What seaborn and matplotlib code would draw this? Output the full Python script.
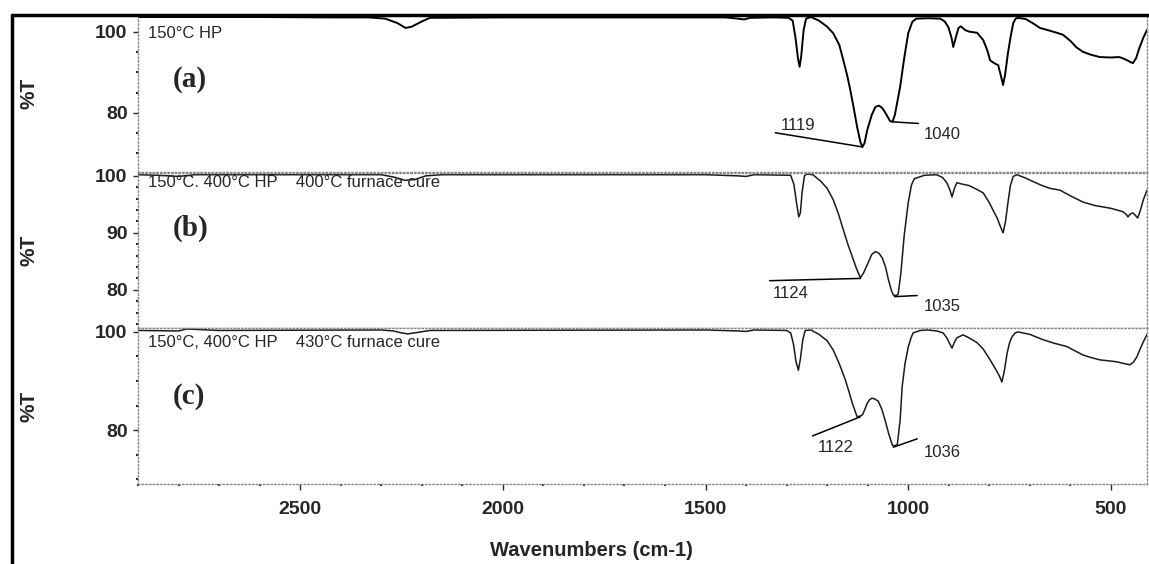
import matplotlib
matplotlib.use("Agg")
import numpy as np
import pandas as pd
import seaborn as sns
import matplotlib.pyplot as plt
from matplotlib.ticker import MultipleLocator
from matplotlib.lines import Line2D

# FTIR spectra (wavenumber cm-1, %T)
wn_a = [2900, 2600, 2420, 2330, 2290, 2260, 2240, 2225, 2200, 2180, 2000, 1700, 1450, 1420, 1405,
        1390, 1330, 1295, 1285, 1278, 1272, 1268, 1264, 1258, 1252, 1240, 1220, 1200, 1185, 1170,
        1160, 1150, 1143, 1135, 1126, 1118, 1113, 1108, 1101, 1090, 1081, 1072, 1064, 1055, 1045,
        1039, 1033, 1020, 1010, 1000, 990, 980, 950, 921, 910, 901, 893, 889, 883, 876,
        870, 860, 850, 830, 815, 805, 798, 788, 778, 771, 766, 761, 754, 748, 741,
        735, 729, 710, 690, 675, 650, 630, 618, 600, 585, 569, 550, 527, 500, 480,
        473, 460, 446, 438, 430, 420, 411]
t_a = [103.7, 103.7, 103.6, 103.6, 103.3, 102.2, 101.0, 101.3, 102.6, 103.5, 103.6, 103.6, 103.6, 103.3, 103.1,
       103.5, 103.6, 103.5, 102.8, 98.5, 93.5, 91.4, 94.0, 100.5, 103.3, 103.7, 102.8, 101.3, 99.7, 96.8,
       93.0, 89.0, 85.7, 81.5, 76.5, 72.8, 71.6, 72.5, 75.8, 79.5, 81.5, 81.8, 81.2, 79.8, 78.0,
       77.8, 79.5, 86.4, 93.5, 99.7, 102.5, 103.3, 103.4, 103.3, 102.6, 101.2, 98.5, 96.3, 98.5, 101.0,
       101.4, 100.5, 100.1, 99.8, 98.0, 95.5, 93.0, 92.3, 91.8, 89.0, 86.9, 89.5, 94.8, 98.5, 102.2,
       103.3, 103.5, 103.2, 102.0, 101.0, 100.3, 99.7, 99.3, 97.8, 96.2, 95.1, 94.4, 93.8, 93.7, 93.8,
       93.6, 93.0, 92.3, 93.5, 96.0, 98.6, 100.5]

wn_b = [2900, 2850, 2800, 2760, 2300, 2270, 2240, 2215, 2190, 2150, 1500, 1420, 1400, 1380, 1290,
        1282, 1275, 1270, 1266, 1262, 1256, 1250, 1235, 1215, 1200, 1185, 1172, 1160, 1148, 1138,
        1128, 1118, 1110, 1101, 1090, 1081, 1072, 1064, 1056, 1049, 1042, 1037, 1030, 1025, 1018,
        1010, 1000, 992, 985, 960, 930, 915, 905, 897, 892, 886, 880, 870, 850, 830,
        815, 800, 791, 780, 772, 766, 760, 754, 748, 741, 732, 710, 692, 670, 650,
        626, 600, 569, 540, 500, 470, 462, 458, 452, 446, 440, 434, 428, 420, 411]
t_b = [100.2, 100.1, 99.9, 100.2, 100.2, 99.8, 99.2, 99.4, 100.0, 100.2, 100.2, 100.0, 99.9, 100.2, 100.1,
       98.5, 95.0, 92.8, 93.5, 97.0, 100.0, 100.3, 100.2, 99.0, 97.8, 95.8, 93.3, 90.5, 87.8, 85.8,
       83.8, 82.1, 83.0, 84.4, 86.2, 86.7, 86.4, 85.6, 84.0, 81.8, 80.0, 79.1, 79.0, 79.2, 83.0,
       89.5, 95.3, 98.4, 99.5, 100.1, 100.2, 99.7, 98.8, 97.5, 96.3, 97.8, 98.8, 98.6, 98.3, 97.6,
       97.0, 95.3, 94.0, 92.5, 91.0, 90.0, 92.0, 95.3, 98.3, 99.9, 100.2, 99.6, 99.0, 98.3, 97.8,
       97.5, 96.5, 95.4, 94.8, 94.3, 93.7, 93.2, 92.8, 93.3, 93.5, 93.1, 92.6, 93.8, 95.8, 97.5]

wn_c = [2900, 2800, 2780, 2700, 2300, 2270, 2250, 2235, 2210, 2180, 1500, 1420, 1400, 1380, 1300,
        1290, 1283, 1277, 1271, 1266, 1260, 1254, 1240, 1220, 1200, 1185, 1170, 1155, 1145, 1138,
        1130, 1126, 1120, 1113, 1107, 1101, 1095, 1089, 1082, 1074, 1065, 1057, 1048, 1039, 1033,
        1027, 1020, 1015, 1008, 1000, 993, 988, 970, 953, 930, 914, 905, 897, 892, 886,
        880, 865, 850, 830, 815, 798, 785, 775, 769, 763, 756, 750, 744, 736, 729,
        700, 667, 640, 608, 590, 569, 550, 527, 505, 485, 470, 453, 445, 436, 428,
        421, 411]
t_c = [100.3, 100.2, 100.6, 100.3, 100.4, 100.2, 99.8, 99.6, 99.9, 100.3, 100.4, 100.2, 100.1, 100.4, 100.3,
       99.8, 97.5, 94.0, 92.2, 94.5, 98.5, 100.3, 100.4, 99.5, 98.2, 96.3, 93.5, 90.2, 87.5, 85.5,
       83.6, 82.7, 82.8, 83.1, 84.2, 85.5, 86.2, 86.5, 86.3, 85.9, 84.2, 82.0, 79.2, 76.9, 76.8,
       77.0, 82.0, 88.8, 93.5, 96.9, 98.8, 99.8, 100.3, 100.4, 100.2, 99.8, 98.8, 97.5, 96.7, 97.9,
       98.8, 99.4, 98.8, 97.8, 96.5, 94.3, 92.5, 91.0, 89.8, 92.0, 95.7, 97.8, 99.0, 99.8, 100.0,
       99.5, 98.4, 97.7, 97.0, 96.2, 95.3, 94.8, 94.3, 94.1, 93.9, 93.6, 93.3, 93.8, 94.9, 96.5,
       97.8, 99.5]

conditions = ["150°C HP",
              "150°C. 400°C HP    400°C furnace cure",
              "150°C, 400°C HP    430°C furnace cure"]
panel_tags = ["(a)", "(b)", "(c)"]
ylims = [(65.4, 104.2), (73.3, 100.5), (69.0, 100.8)]
yticks = [[80, 100], [80, 90, 100], [80, 100]]
yminor = [5, 2, 5]
xticks = [2500, 2000, 1500, 1000, 500]

# peak labels: text, text position, leader line (wn1, t1, wn2, t2)
peak_text = [["1119", "1040"], ["1124", "1035"], ["1122", "1036"]]
peak_text_pos = [[(1315, 76.8), (961, 74.6)], [(1335, 79.3), (961, 77.0)], [(1224, 76.5), (961, 75.5)]]
peak_lines = [[(1328, 75.1, 1113, 71.6), (1039, 77.8, 975, 77.4)],
              [(1342, 81.6, 1118, 82.0), (1034, 78.8, 978, 79.0)],
              [(1236, 78.8, 1118, 82.7), (1037, 76.5, 978, 78.2)]]

sns.set_style("white")
plt.rcParams['font.family'] = ['Liberation Sans', 'DejaVu Sans']

W, H = 1149, 564
fig = plt.figure(figsize=(W / 100, H / 100), dpi=100)

boxes = [(15, 172), (173, 328), (328, 484)]  # pixel top/bottom of each panel
text_y = [0.885, 0.94, 0.91]
tag_y = [0.586, 0.645, 0.558]
spectra = [(wn_a, t_a), (wn_b, t_b), (wn_c, t_c)]

for i, (top, bot) in enumerate(boxes):
    ax = fig.add_axes([138 / W, 1 - bot / H, (1147 - 138) / W, (bot - top) / H])
    wn, t = spectra[i]
    sns.lineplot(x=wn, y=t, ax=ax, color='black' if i == 0 else '#1a1a1a',
                 lw=1.4 if i == 0 else 1.1, sort=False, estimator=None)
    ax.set_xlim(2900, 411)
    ax.set_ylim(*ylims[i])

    for s in ax.spines.values():
        s.set_linestyle(':')
        s.set_color('#888888')
        s.set_linewidth(1)
    if i == 0:
        ax.spines['top'].set_visible(False)

    ax.set_yticks(yticks[i], labels=[str(v) for v in yticks[i]], fontsize=14, fontweight='bold')
    ax.yaxis.set_minor_locator(MultipleLocator(yminor[i]))
    ax.tick_params(axis='y', which='major', left=True, direction='out', length=3.5, width=1, pad=4)
    ax.tick_params(axis='y', which='minor', left=True, direction='out', length=1.5, width=1.5)

    if i == 2:
        ax.set_xticks(xticks, labels=[str(v) for v in xticks], fontsize=14, fontweight='bold')
        ax.xaxis.set_minor_locator(MultipleLocator(100))
        ax.tick_params(axis='x', which='major', bottom=True, direction='out', length=4, width=1, pad=8)
        ax.tick_params(axis='x', which='minor', bottom=True, direction='out', length=1.5, width=1.5)
    else:
        ax.set_xticks([])

    ax.set_xlabel('')
    ax.set_ylabel('%T', fontsize=15, fontweight='bold')
    ax.yaxis.set_label_coords(-0.099, 0.5)

    ax.text(0.01, text_y[i], conditions[i], transform=ax.transAxes, fontsize=12,
            ha='left', va='center')
    ax.text(0.034, tag_y[i], panel_tags[i], transform=ax.transAxes, fontsize=21,
            fontweight='bold', family='Liberation Serif', ha='left', va='center')

    for lab, (px, py), (x1, y1, x2, y2) in zip(peak_text[i], peak_text_pos[i], peak_lines[i]):
        ax.plot([x1, x2], [y1, y2], color='black', lw=1.1)
        ax.text(px, py, lab, fontsize=12, ha='left', va='center')

# outer frame of the scan
fig.add_artist(Line2D([12 / W, 12 / W], [0, 1 - 15 / H], color='black', lw=2.5))
fig.add_artist(Line2D([12 / W, 1], [1 - 15 / H, 1 - 15 / H], color='black', lw=2.5))

fig.text(591 / W, 1 - 550 / H, 'Wavenumbers (cm-1)', ha='center', va='center',
         fontsize=14.5, fontweight='bold')

fig.savefig('out.png', dpi=100)
